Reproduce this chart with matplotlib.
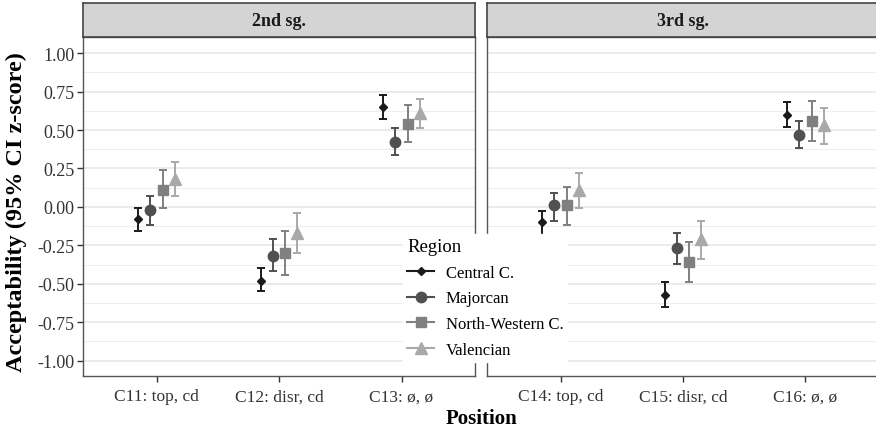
import matplotlib
matplotlib.use('Agg')
import matplotlib.pyplot as plt
from matplotlib.lines import Line2D
import numpy as np

plt.rcParams['font.family'] = ['Liberation Serif', 'DejaVu Serif']

panels = ['2nd sg.', '3rd sg.']
positions = [['C11: top, cd', 'C12: disr, cd', 'C13: ø, ø'],
             ['C14: top, cd', 'C15: disr, cd', 'C16: ø, ø']]
regions = ['Central C.', 'Majorcan', 'North-Western C.', 'Valencian']

# estimate, lower CI, upper CI for the six positions (C11..C16)
central_est = [-0.08, -0.48, 0.65, -0.10, -0.57, 0.60]
central_lo = [-0.16, -0.55, 0.57, -0.18, -0.65, 0.52]
central_hi = [-0.01, -0.40, 0.73, -0.03, -0.49, 0.68]

majorcan_est = [-0.02, -0.32, 0.42, 0.01, -0.27, 0.47]
majorcan_lo = [-0.12, -0.42, 0.34, -0.09, -0.37, 0.38]
majorcan_hi = [0.07, -0.21, 0.51, 0.09, -0.17, 0.56]

nw_est = [0.11, -0.30, 0.54, 0.01, -0.36, 0.56]
nw_lo = [-0.01, -0.44, 0.42, -0.12, -0.49, 0.43]
nw_hi = [0.24, -0.16, 0.66, 0.13, -0.23, 0.69]

valencian_est = [0.18, -0.17, 0.61, 0.11, -0.21, 0.53]
valencian_lo = [0.07, -0.30, 0.51, -0.01, -0.34, 0.41]
valencian_hi = [0.29, -0.04, 0.70, 0.22, -0.09, 0.64]

series = [(central_est, central_lo, central_hi),
          (majorcan_est, majorcan_lo, majorcan_hi),
          (nw_est, nw_lo, nw_hi),
          (valencian_est, valencian_lo, valencian_hi)]
colors = ['#1a1a1a', '#505050', '#808080', '#a9a9a9']
markers = ['D', 'o', 's', '^']
msizes = [4.5, 7.5, 6.8, 8.5]
offsets = [-0.15, -0.05, 0.05, 0.15]

W, H = 876, 431
fig = plt.figure(figsize=(W / 100, H / 100), dpi=100)

pan_bot = 1 - 377 / H
pan_h = (377 - 38) / H
strip_h = (38 - 4) / H
lefts = [83 / W, 487 / W]
pw = 392 / W

for p in range(2):
    ax = fig.add_axes([lefts[p], pan_bot, pw, pan_h])
    ax.set_xlim(0.4, 3.6)
    ax.set_ylim(-1.1, 1.105)
    for y in np.arange(-1.0, 1.01, 0.25):
        ax.axhline(y, color='#e6e6e6', lw=1.1, zorder=0)
    for y in np.arange(-0.875, 0.9, 0.25):
        ax.axhline(y, color='#efefef', lw=0.8, zorder=0)
    x = np.arange(1, 4)
    for r in range(4):
        est, lo, hi = series[r]
        e = np.array(est[p * 3:p * 3 + 3])
        l = np.array(lo[p * 3:p * 3 + 3])
        h = np.array(hi[p * 3:p * 3 + 3])
        ax.errorbar(x + offsets[r], e, yerr=[e - l, h - e], fmt=markers[r],
                    color=colors[r], ms=msizes[r], elinewidth=1.4,
                    capsize=2.8, capthick=1.4, zorder=3)
    ax.set_xticks(x)
    ax.set_xticklabels(positions[p], fontsize=12.5, color='#333333')
    ax.set_yticks(np.arange(-1.0, 1.01, 0.25))
    if p == 0:
        ax.set_yticklabels(['%.2f' % v for v in np.arange(-1.0, 1.01, 0.25)],
                           fontsize=13, color='#333333')
        ax.tick_params(axis='y', length=4, width=1, color='#333333', pad=2)
    else:
        ax.tick_params(axis='y', length=0, labelleft=False)
    ax.tick_params(axis='x', length=4, width=1, color='#333333', pad=5)
    for s in ax.spines.values():
        s.set_color('#555555')
        s.set_linewidth(1.0)

    sax = fig.add_axes([lefts[p], pan_bot + pan_h, pw, strip_h])
    sax.set_facecolor('#d4d4d4')
    sax.set_xticks([])
    sax.set_yticks([])
    for s in sax.spines.values():
        s.set_color('#444444')
        s.set_linewidth(1.2)
    sax.text(0.5, 0.5, panels[p], transform=sax.transAxes, ha='center',
             va='center', fontsize=13, fontweight='bold', color='#1a1a1a')

fig.text(16 / W, 1 - 212 / H, 'Acceptability (95% CI z-score)', rotation=90,
         ha='center', va='center', fontsize=17.5, fontweight='bold')
fig.text(481 / W, 1 - 419 / H, 'Position', ha='center', va='center',
         fontsize=15, fontweight='bold')

handles = [Line2D([0], [0], color=colors[r], marker=markers[r], ms=msizes[r],
                  lw=1.5) for r in range(4)]
leg = fig.legend(handles, regions, title='Region', loc='upper left',
                 bbox_to_anchor=(403 / W, 1 - 235 / H), borderaxespad=0,
                 fontsize=12, title_fontsize=13.5, frameon=True, fancybox=False,
                 facecolor='white', edgecolor='white', framealpha=1,
                 handlelength=1.6, labelspacing=0.58, borderpad=0.25,
                 handletextpad=0.7, alignment='left')

fig.savefig('out.png', dpi=100)
